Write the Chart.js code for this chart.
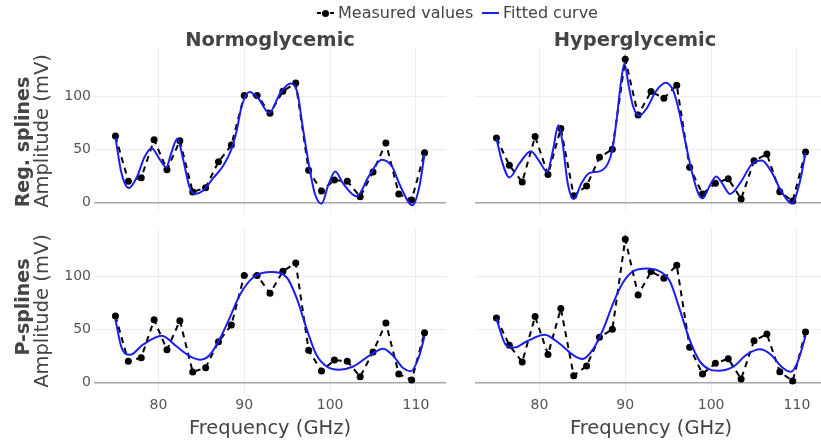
<!DOCTYPE html>
<html><head><meta charset="utf-8">
<script src="https://cdn.jsdelivr.net/npm/chart.js@4.4.1/dist/chart.umd.min.js"></script>
<style>
html,body{margin:0;padding:0;background:#fff;overflow:hidden;}
#wrap{position:relative;width:821px;height:443px;overflow:hidden;font-family:'DejaVu Sans',sans-serif;color:#444;}
canvas{position:absolute;}
.t{position:absolute;white-space:nowrap;line-height:1;}
.ttl{font-weight:bold;font-size:19.5px;transform:translateX(-50%);}
.xt{font-size:19.5px;transform:translateX(-50%);}
.rot{position:absolute;white-space:nowrap;line-height:1;transform:translate(-50%,-50%) rotate(-90deg);}
.yt{font-size:19.5px;}
.row{font-size:19px;font-weight:bold;}
.leg{font-size:16px;}
</style></head><body><div id="wrap">
<canvas id="c1" width="402" height="165" style="left:44px;top:48px"></canvas>
<canvas id="c2" width="352" height="165" style="left:475px;top:48px"></canvas>
<canvas id="c3" width="402" height="200" style="left:44px;top:228px"></canvas>
<canvas id="c4" width="352" height="200" style="left:475px;top:228px"></canvas>

<div class="t ttl" style="left:270px;top:30px">Normoglycemic</div>
<div class="t ttl" style="left:635px;top:30px">Hyperglycemic</div>
<div class="t xt" style="left:270px;top:418px">Frequency (GHz)</div>
<div class="t xt" style="left:651px;top:418px">Frequency (GHz)</div>
<div class="rot yt" style="left:42px;top:131px">Amplitude (mV)</div>
<div class="rot yt" style="left:42px;top:311px">Amplitude (mV)</div>
<div class="rot row" style="left:22px;top:142px">Reg. splines</div>
<div class="rot row" style="left:22px;top:307px">P-splines</div>

<div style="position:absolute;left:317px;top:12px;width:4px;height:2px;background:#000"></div>
<div style="position:absolute;left:322px;top:9.5px;width:7px;height:7px;border-radius:50%;background:#000"></div>
<div style="position:absolute;left:330px;top:12px;width:4px;height:2px;background:#000"></div>
<div class="t leg" style="left:338px;top:5px">Measured values</div>
<div style="position:absolute;left:482px;top:12px;width:17px;height:2px;background:rgb(30,30,235)"></div>
<div class="t leg" style="left:503px;top:5px">Fitted curve</div>
</div>
<script>
// Frequencies of measured points (GHz)
const freq = [75, 76.5, 78, 79.5, 81, 82.5, 84, 85.5, 87, 88.5, 90, 91.5, 93, 94.5, 96, 97.5, 99, 100.5, 102, 103.5, 105, 106.5, 108, 109.5, 111];
// Measured amplitudes (mV)
const measNorm = [62.5, 20, 23.3, 59, 30.7, 58.2, 9.8, 13.9, 38.3, 54, 100.8, 100.8, 84, 104.7, 112.5, 30.2, 10.8, 21, 20, 5.3, 28.6, 56, 8, 2.2, 46.8];
const measHyper = [60.6, 35, 19.3, 62, 26.3, 69.6, 6.3, 15.5, 42.5, 50, 135, 82.4, 104.4, 98.2, 110.3, 33.1, 8, 18, 22.3, 3.3, 39.2, 45.5, 10, 1.2, 47.6];

// Fitted curves
const fitRegNormX = [75, 75.7, 76.55, 77.45, 78.4, 79.2, 80.2, 80.9, 81.5, 82.2, 82.9, 83.6, 84.25, 85.2, 86.4, 87.55, 88.5, 89.1, 89.7, 90.6, 91.6, 92.9, 94.2, 95.4, 96.2, 96.8, 97.5, 98.2, 99, 99.8, 100.6, 101.5, 103.1, 104.5, 106, 107.2, 108.2, 109.6, 110.4, 111];
const fitRegNormY = [61, 27.7, 13.5, 23, 43, 51, 40, 33, 46.5, 60, 40, 15, 8, 11, 23, 34.6, 50, 67, 90.6, 104, 98.4, 84.3, 103, 112, 103, 71.7, 37, 8.8, -1.3, 16.7, 29.2, 18, 5.7, 24.5, 40.3, 34, 15, -2.8, 15, 45.6];

const fitRegHyperX = [75, 75.7, 76.5, 77.7, 79, 80, 80.9, 81.6, 82.2, 82.7, 83.3, 84, 84.9, 85.8, 87, 88, 88.5, 89, 89.45, 89.9, 90.4, 90.9, 91.6, 92.45, 93.6, 94.7, 95.6, 96.3, 97.1, 97.9, 98.5, 99, 99.8, 100.6, 101.4, 102.2, 103.5, 104.7, 105.9, 107, 108.2, 109.4, 110.3, 111];
const fitRegHyperY = [60, 37, 23.5, 37, 48.3, 38.7, 28.6, 49.8, 72.7, 56, 18, 3.2, 18, 27.6, 29.2, 37, 50, 78, 110, 131, 110, 91, 81.6, 88, 105, 112.7, 105, 84.8, 53, 24.4, 8.6, 3.8, 15, 24.4, 16.5, 8, 19.7, 35.6, 39.4, 29.2, 10.2, -1, 18, 46.7];

const fitPNormX = [75, 75.7, 76.7, 78.2, 80.4, 82.1, 83.7, 84.9, 86, 87.2, 88.3, 89.5, 91.1, 93.2, 95, 96.1, 97.3, 98.4, 99.6, 101, 102.7, 104.7, 106.2, 107.4, 108.5, 109.4, 110.3, 111];
const fitPNormY = [59, 33, 26, 35.5, 44, 34, 24.5, 21.4, 26, 41.8, 60.7, 82.7, 99.4, 104, 98.4, 79.6, 49.7, 26, 15, 12, 15, 26, 31.8, 24.5, 13.5, 10.4, 23, 43.4];

const fitPHyperX = [75, 76.1, 77.1, 78.5, 80.6, 82.3, 83.9, 85, 86.2, 87.4, 88.6, 89.7, 90.9, 92.5, 94, 95.2, 96.3, 97.5, 98.7, 99.8, 100.8, 102.6, 104.1, 105.7, 107, 108.2, 109.3, 110.1, 111];
const fitPHyperY = [59.6, 35.3, 32.8, 38.5, 44.8, 36.9, 25.9, 22, 30.6, 49.5, 74.8, 93.7, 104.7, 107.3, 104.7, 95.3, 70, 40, 19.6, 12.3, 11, 14.8, 25.9, 31.2, 25.9, 14.8, 10, 19.6, 43.8];

// Axis ticks
const xTicks = [80, 90, 100, 110];
const yTicks = [0, 50, 100];

Chart.defaults.font.family = "'DejaVu Sans', sans-serif";
const fitColor = 'rgb(30,30,235)';
const gridColor = '#ececec';
const zeroColor = '#a6a6a6';

function noPad(s) { s.paddingTop = 0; s.paddingBottom = 0; s.paddingLeft = 0; s.paddingRight = 0; }

function panel(id, meas, fx, fy, showY, showX) {
  new Chart(document.getElementById(id), {
    type: 'line',
    data: { datasets: [
      { label: 'Fitted curve', data: fx.map((x, i) => ({x: x, y: fy[i]})),
        borderColor: fitColor, borderWidth: 2, pointRadius: 0, cubicInterpolationMode: 'monotone', fill: false },
      { label: 'Measured values', data: freq.map((x, i) => ({x: x, y: meas[i]})),
        borderColor: '#000', borderWidth: 2, borderDash: [6, 5], pointRadius: 3.5,
        pointBackgroundColor: '#000', pointBorderWidth: 0, tension: 0, fill: false }
    ]},
    options: {
      responsive: false, animation: false, devicePixelRatio: 1,
      layout: {padding: 0, autoPadding: false},
      plugins: {legend: {display: false}, tooltip: {enabled: false}},
      scales: {
        x: {
          type: 'linear', min: 72.5, max: 113.5,
          afterBuildTicks: s => { s.ticks = xTicks.map(v => ({value: v})); },
          grid: {color: gridColor, lineWidth: 1, drawTicks: false},
          border: {display: false},
          ticks: {display: showX, padding: 4, color: '#555', font: {size: 14}},
          afterFit: s => { s.height = showX ? 35 : 0; noPad(s); }
        },
        y: {
          type: 'linear', min: -10, max: 145.5,
          afterBuildTicks: s => { s.ticks = yTicks.map(v => ({value: v})); },
          grid: {
            color: c => (c.tick && c.tick.value === 0) ? zeroColor : gridColor,
            lineWidth: c => (c.tick && c.tick.value === 0) ? 1.5 : 1,
            drawTicks: false
          },
          border: {display: false},
          ticks: {display: showY, padding: 3, color: '#555', font: {size: 14}},
          afterFit: s => { s.width = showY ? 50 : 0; noPad(s); }
        }
      }
    }
  });
}

panel('c1', measNorm, fitRegNormX, fitRegNormY, true, false);
panel('c2', measHyper, fitRegHyperX, fitRegHyperY, false, false);
panel('c3', measNorm, fitPNormX, fitPNormY, true, true);
panel('c4', measHyper, fitPHyperX, fitPHyperY, false, true);
</script>
</body></html>
